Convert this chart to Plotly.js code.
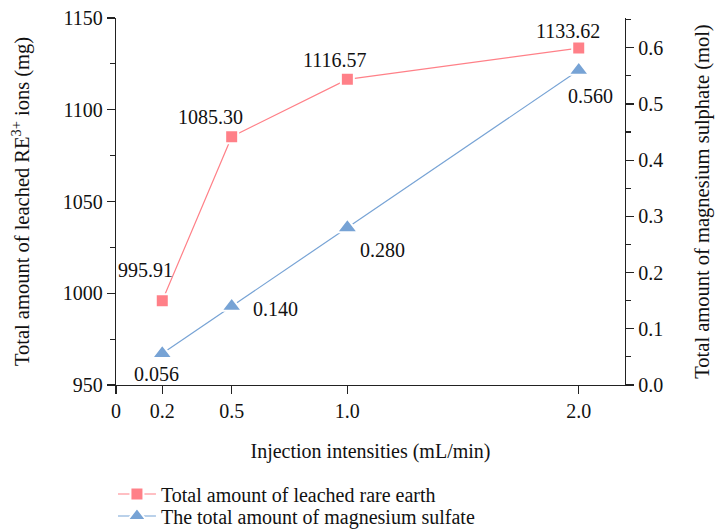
<!DOCTYPE html>
<html>
<head>
<meta charset="utf-8">
<script src="https://cdn.plot.ly/plotly-3.0.1.min.js"></script>
<style>html,body{margin:0;padding:0;background:#fff}#chart{width:717px;height:529px}</style>
</head>
<body>
<div id="chart"></div>
<script>
// Data
const injection = [0.2, 0.5, 1.0, 2.0];
const leachedRE = [995.91, 1085.30, 1116.57, 1133.62];
const magnesium = [0.056, 0.140, 0.280, 0.560];
const reLabels = ['995.91', '1085.30', '1116.57', '1133.62'];
const mgLabels = ['0.056', '0.140', '0.280', '0.560'];
const xTickVals = [0, 0.2, 0.5, 1.0, 2.0];
const xTickText = ['0', '0.2', '0.5', '1.0', '2.0'];
const y2TickVals = [0, 0.1, 0.2, 0.3, 0.4, 0.5, 0.6];
const y2TickText = ['0.0', '0.1', '0.2', '0.3', '0.4', '0.5', '0.6'];

const FONT = '"Liberation Serif", "DejaVu Serif", serif';
const FS = 20;
const PINK = '#ff8088';
const BLUE = '#77a3d5';

const traces = [
  {
    x: injection, y: leachedRE, type: 'scatter', mode: 'lines+markers',
    name: 'Total amount of leached rare earth',
    line: {color: PINK, width: 1.2},
    marker: {symbol: 'square', size: 13, color: PINK, line: {color: '#fff', width: 2}},
    yaxis: 'y', legend: 'legend'
  },
  {
    x: injection, y: magnesium, type: 'scatter', mode: 'lines+markers',
    name: 'The total amount of magnesium sulfate',
    line: {color: BLUE, width: 1.2},
    marker: {symbol: 'triangle-up', size: 18, color: BLUE, line: {color: '#fff', width: 2}},
    yaxis: 'y2', legend: 'legend2'
  }
];

const reShift = [[-17, 31], [-21, 20], [-12, 19], [-11, 17]];
const mgShift = [[-6, -20], [44, -3], [35, -22], [12, -26]];
const annotations = [];
injection.forEach((x, i) => {
  annotations.push({x: x, y: leachedRE[i], xref: 'x', yref: 'y', text: reLabels[i], showarrow: false,
    xshift: reShift[i][0], yshift: reShift[i][1], font: {family: FONT, size: FS, color: '#111'}});
  annotations.push({x: x, y: magnesium[i], xref: 'x', yref: 'y2', text: mgLabels[i], showarrow: false,
    xshift: mgShift[i][0], yshift: mgShift[i][1], font: {family: FONT, size: FS, color: '#111'}});
});

const legendBase = {x: -0.006, xanchor: 'left', yref: 'container', yanchor: 'middle', orientation: 'v',
  itemwidth: 38, font: {family: FONT, size: FS, color: '#111'}, bgcolor: 'rgba(0,0,0,0)', borderwidth: 0};

const layout = {
  width: 717, height: 529,
  margin: {l: 116, r: 92, t: 18, b: 144},
  paper_bgcolor: '#fff', plot_bgcolor: '#fff',
  font: {family: FONT, size: FS, color: '#111'},
  showlegend: true,
  legend: Object.assign({}, legendBase, {y: 1 - 494 / 529}),
  legend2: Object.assign({}, legendBase, {y: 1 - 516 / 529}),
  xaxis: {
    range: [0, 2.2], tickvals: xTickVals, ticktext: xTickText,
    showline: true, linecolor: '#222', linewidth: 1.2, mirror: false,
    ticks: 'outside', ticklen: 8, tickcolor: '#222', tickwidth: 1.2,
    showgrid: false, zeroline: false,
    title: {text: 'Injection intensities (mL/min)', font: {family: FONT, size: FS}, standoff: 22}
  },
  yaxis: {
    range: [950, 1150], dtick: 50, tick0: 950,
    showline: true, linecolor: '#222', linewidth: 1.2,
    ticks: 'outside', ticklen: 8, tickcolor: '#222', tickwidth: 1.2,
    minor: {dtick: 25, ticks: 'outside', ticklen: 5, tickcolor: '#222', tickwidth: 1.2, showgrid: false},
    showgrid: false, zeroline: false,
    title: {text: 'Total amount of leached RE<sup>3+</sup> ions (mg)', font: {family: FONT, size: 20.5}, standoff: 27}
  },
  yaxis2: {
    overlaying: 'y', side: 'right', anchor: 'x',
    range: [0, 0.653], tickvals: y2TickVals, ticktext: y2TickText,
    showline: true, linecolor: '#222', linewidth: 1.2,
    ticks: 'outside', ticklen: 8, tickcolor: '#222', tickwidth: 1.2,
    minor: {dtick: 0.05, tick0: 0, ticks: 'outside', ticklen: 5, tickcolor: '#222', tickwidth: 1.2, showgrid: false},
    showgrid: false, zeroline: false,
    title: {text: 'Total amount of magnesium sulphate (mol)', font: {family: FONT, size: 20.5}, standoff: 32}
  },
  annotations: annotations,
  shapes: [{type: 'line', xref: 'paper', yref: 'paper', x0: -0.017, x1: 0, y0: 0, y1: 0,
    line: {color: '#222', width: 1.2}}]
};

Plotly.newPlot('chart', traces, layout, {displayModeBar: false, staticPlot: true});
</script>
</body>
</html>
